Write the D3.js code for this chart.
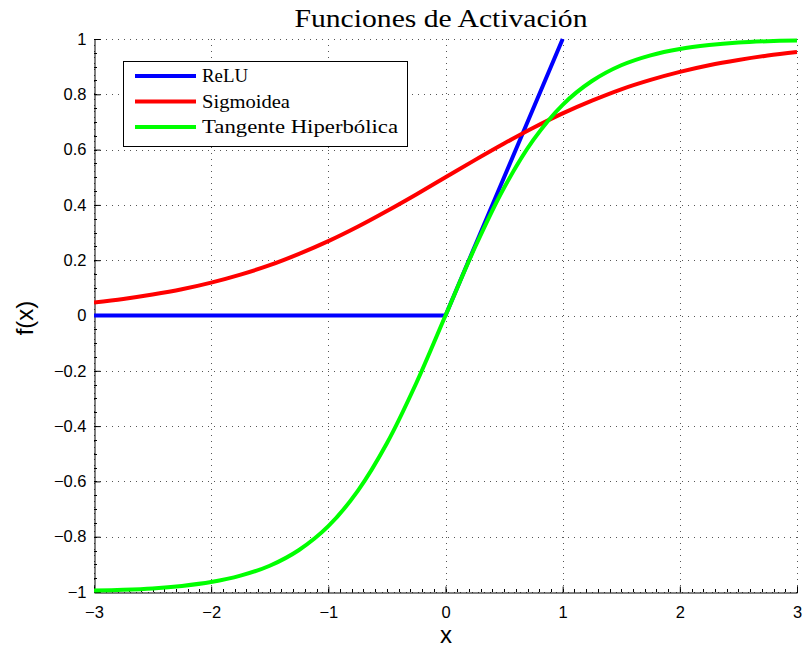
<!DOCTYPE html>
<html>
<head>
<meta charset="utf-8">
<script src="https://cdn.jsdelivr.net/npm/d3@7"></script>
<style>
  body { margin: 0; background: #fff; }
  svg { display: block; }
</style>
</head>
<body>
<div id="chart"></div>
<script>
// values
const xs = [-3, -2.75, -2.5, -2.25, -2, -1.75, -1.5, -1.25, -1, -0.75, -0.5, -0.25, 0,
            0.25, 0.5, 0.75, 1, 1.25, 1.5, 1.75, 2, 2.25, 2.5, 2.75, 3];
const sigmoidValues = [0.047, 0.060, 0.076, 0.095, 0.119, 0.148, 0.182, 0.223, 0.269, 0.321, 0.378, 0.438, 0.5,
                       0.562, 0.622, 0.679, 0.731, 0.777, 0.818, 0.852, 0.881, 0.905, 0.924, 0.940, 0.953];
const tanhValues = [-0.995, -0.992, -0.987, -0.978, -0.964, -0.941, -0.905, -0.848, -0.762, -0.635, -0.462, -0.245, 0,
                    0.245, 0.462, 0.635, 0.762, 0.848, 0.905, 0.941, 0.964, 0.978, 0.987, 0.992, 0.995];
const reluX = [-3, 0, 1];
const reluValues = [0, 0, 1];
const xTicks = [-3, -2, -1, 0, 1, 2, 3];
const yTicks = [-1, -0.8, -0.6, -0.4, -0.2, 0, 0.2, 0.4, 0.6, 0.8, 1];
const seriesNames = ['ReLU', 'Sigmoidea', 'Tangente Hiperbólica'];
const seriesColors = ['#0000ff', '#ff0000', '#00ff00'];

const width = 804, height = 652;
const margin = { top: 39, right: 7, bottom: 60, left: 94 };

const svg = d3.select('#chart').append('svg')
  .attr('width', width)
  .attr('height', height);

const x = d3.scaleLinear().domain([-3, 3]).range([margin.left, width - margin.right]);
const y = d3.scaleLinear().domain([-1, 1]).range([height - margin.bottom, margin.top]);
const minus = d => d3.format('')(d).replace('-', '\u2212');

// grid (dotted)
const grid = svg.append('g').attr('stroke', '#555').attr('stroke-width', 1)
  .attr('stroke-dasharray', '1,5');
grid.selectAll('.gx').data(xTicks).enter().append('line')
  .attr('x1', d => Math.round(x(d)) + 0.5).attr('x2', d => Math.round(x(d)) + 0.5)
  .attr('y1', y(-1)).attr('y2', y(1));
grid.selectAll('.gy').data(yTicks).enter().append('line')
  .attr('y1', d => Math.round(y(d)) + 0.5).attr('y2', d => Math.round(y(d)) + 0.5)
  .attr('x1', x(-3)).attr('x2', x(3));

// axes
const xAxis = svg.append('g')
  .attr('transform', `translate(0,${Math.round(y(-1)) + 0.5})`)
  .call(d3.axisBottom(x).tickValues(xTicks).tickSize(-6).tickPadding(14).tickFormat(minus));
const yAxis = svg.append('g')
  .attr('transform', `translate(${Math.round(x(-3)) + 0.5},0)`)
  .call(d3.axisLeft(y).tickValues(yTicks).tickSize(-6).tickPadding(8).tickFormat(minus));

// minor ticks
svg.append('g').selectAll('line').data(d3.range(-3, 3.0001, 0.1)).enter().append('line')
  .attr('x1', d => Math.round(x(d)) + 0.5).attr('x2', d => Math.round(x(d)) + 0.5)
  .attr('y1', y(-1)).attr('y2', y(-1) - 3).attr('stroke', '#000');
svg.append('g').selectAll('line').data(d3.range(-1, 1.0001, 0.05)).enter().append('line')
  .attr('y1', d => Math.round(y(d)) + 0.5).attr('y2', d => Math.round(y(d)) + 0.5)
  .attr('x1', x(-3)).attr('x2', x(-3) + 3).attr('stroke', '#000');

[xAxis, yAxis].forEach(a => {
  a.select('.domain').attr('stroke', '#000');
  a.selectAll('.tick line').attr('stroke', '#000');
  a.selectAll('text').attr('fill', '#000')
    .style('font-family', '"Liberation Sans", Arial, sans-serif').style('font-size', '16.5px');
});

// lines
svg.append('clipPath').attr('id', 'plotclip').append('rect')
  .attr('x', x(-3)).attr('y', y(1) - 2).attr('width', x(3) - x(-3) + 4).attr('height', y(-1) - y(1) + 4);

const line = d3.line().x(d => x(d[0])).y(d => y(d[1]));
const smooth = d3.line().x(d => x(d[0])).y(d => y(d[1])).curve(d3.curveCatmullRom);

const plot = svg.append('g').attr('clip-path', 'url(#plotclip)').attr('fill', 'none')
  .attr('stroke-width', 4).attr('stroke-linejoin', 'round');
plot.append('path').attr('d', line(d3.zip(reluX, reluValues))).attr('stroke', seriesColors[0]);
plot.append('path').attr('d', smooth(d3.zip(xs, sigmoidValues))).attr('stroke', seriesColors[1]);
plot.append('path').attr('d', smooth(d3.zip(xs, tanhValues))).attr('stroke', seriesColors[2]);

// legend
const legend = svg.append('g');
legend.append('rect').attr('x', 123.5).attr('y', 61.5).attr('width', 284).attr('height', 85)
  .attr('fill', '#fff').attr('stroke', '#000').attr('stroke-width', 1);
const legendLen = [46, 88, 196];
seriesNames.forEach((name, i) => {
  const ly = 76 + i * 25.5;
  legend.append('line').attr('x1', 135).attr('x2', 196).attr('y1', ly).attr('y2', ly)
    .attr('stroke', seriesColors[i]).attr('stroke-width', 4);
  legend.append('text').attr('x', 202).attr('y', ly + 6).text(name)
    .attr('textLength', legendLen[i]).attr('lengthAdjust', 'spacingAndGlyphs')
    .style('font-family', '"Liberation Serif", serif').style('font-size', '18px');
});

// title and labels
svg.append('text').attr('x', 441).attr('y', 27).attr('text-anchor', 'middle')
  .attr('textLength', 293).attr('lengthAdjust', 'spacingAndGlyphs')
  .style('font-family', '"Liberation Serif", serif').style('font-size', '25px')
  .text('Funciones de Activación');
svg.append('text').attr('x', 446).attr('y', 643).attr('text-anchor', 'middle')
  .style('font-family', '"Liberation Sans", Arial, sans-serif').style('font-size', '24px')
  .text('x');
svg.append('text').attr('transform', 'translate(33,318) rotate(-90)').attr('text-anchor', 'middle')
  .style('font-family', '"Liberation Sans", Arial, sans-serif').style('font-size', '24px')
  .text('f(x)');
</script>
</body>
</html>
